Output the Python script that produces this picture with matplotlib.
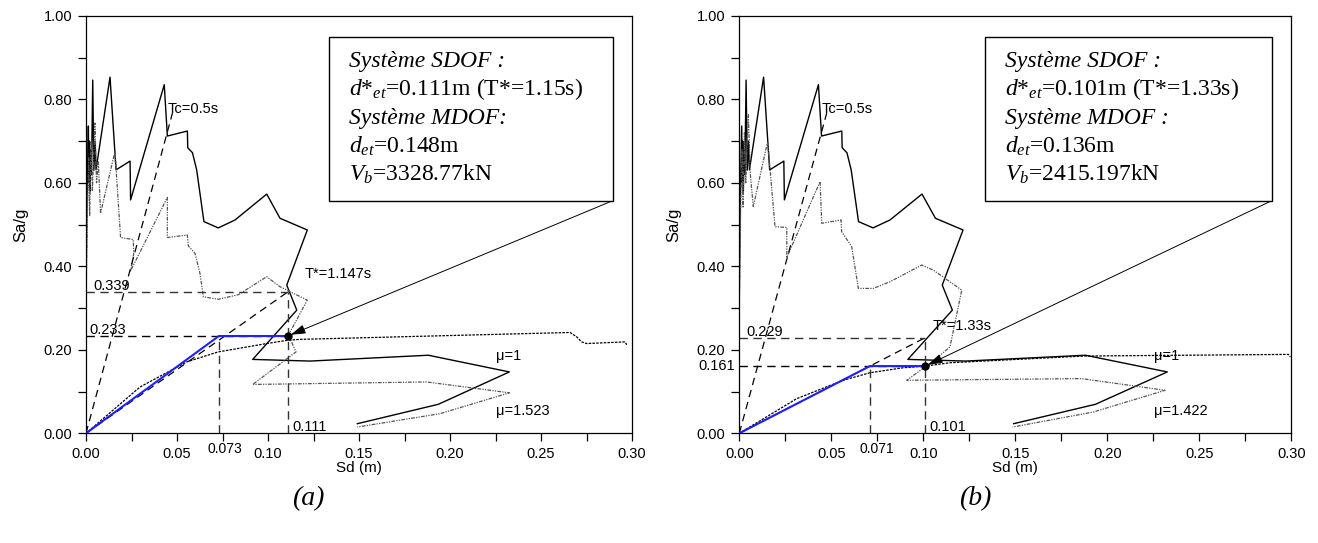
import matplotlib
matplotlib.use("Agg")
import matplotlib.pyplot as plt
from matplotlib.ticker import MultipleLocator, FormatStrFormatter
from matplotlib.patches import Rectangle

plt.rcParams['font.family'] = ['Liberation Sans', 'DejaVu Sans']
plt.rcParams['mathtext.fontset'] = 'custom'
plt.rcParams['mathtext.rm'] = 'Liberation Serif'
plt.rcParams['mathtext.it'] = 'Liberation Serif:italic'
plt.rcParams['mathtext.bf'] = 'Liberation Serif:bold'

# ---------------------------------------------------------------- data
# Elastic demand spectrum (mu = 1) in ADRS format, shared by both cases
elastic_sd = [0.0, 0.0004, 0.0008, 0.0013, 0.0016, 0.0019, 0.0022, 0.0026, 0.0030,
              0.0037, 0.0043, 0.0050, 0.0055, 0.0132, 0.0165, 0.0242, 0.0245, 0.0430,
              0.0447, 0.0557, 0.0559, 0.0585, 0.0608, 0.0648, 0.0727, 0.0819, 0.0993,
              0.1066, 0.1216, 0.1103, 0.1158, 0.0916, 0.1231, 0.1881, 0.2326, 0.1936,
              0.1491]
elastic_sa = [0.33, 0.52, 0.62, 0.736, 0.60, 0.70, 0.58, 0.68, 0.62,
              0.846, 0.63, 0.70, 0.631, 0.853, 0.631, 0.652, 0.559, 0.835,
              0.712, 0.724, 0.684, 0.672, 0.631, 0.507, 0.492, 0.511, 0.573,
              0.515, 0.487, 0.355, 0.295, 0.177, 0.173, 0.187, 0.147, 0.0695,
              0.023]

# (a) inelastic spectrum, mu = 1.523
inel_a_sd = [0.0, 0.0008, 0.0015, 0.0020, 0.0028, 0.0035, 0.0049, 0.0058, 0.0068,
             0.0080, 0.0159, 0.0190, 0.0260, 0.0262, 0.0245, 0.0447, 0.0447, 0.0557,
             0.0562, 0.0599, 0.0626, 0.0645, 0.0727, 0.0837, 0.0993, 0.1066, 0.1216,
             0.1112, 0.1154, 0.0916, 0.1871, 0.2326, 0.1945, 0.1491]
inel_a_sa = [0.30, 0.55, 0.66, 0.52, 0.70, 0.58, 0.743, 0.60, 0.65,
             0.527, 0.675, 0.469, 0.464, 0.43, 0.389, 0.565, 0.469, 0.475,
             0.449, 0.431, 0.383, 0.327, 0.321, 0.332, 0.375, 0.351, 0.319,
             0.235, 0.195, 0.117, 0.123, 0.097, 0.047, 0.015]

# (b) inelastic spectrum, mu = 1.422
inel_b_sd = [0.0, 0.0008, 0.0015, 0.0020, 0.0028, 0.0035, 0.0049, 0.0060, 0.0076,
             0.0154, 0.0194, 0.0258, 0.0258, 0.0439, 0.0448, 0.0553, 0.0556, 0.0611,
             0.0647, 0.0728, 0.0819, 0.0991, 0.1054, 0.1209, 0.1145, 0.1060, 0.0910,
             0.1861, 0.2314, 0.1924, 0.1486]
inel_b_sa = [0.30, 0.56, 0.68, 0.54, 0.72, 0.60, 0.763, 0.62, 0.543,
             0.699, 0.495, 0.493, 0.421, 0.603, 0.503, 0.511, 0.483, 0.447,
             0.347, 0.347, 0.363, 0.403, 0.391, 0.343, 0.207, 0.175, 0.127,
             0.131, 0.103, 0.051, 0.015]

# Capacity curves of the equivalent SDOF systems
cap_a_sd = [0.0, 0.0297, 0.0553, 0.0727, 0.0993, 0.1110, 0.1176, 0.2660, 0.2696,
            0.2723, 0.2751, 0.2962, 0.2971]
cap_a_sa = [0.0, 0.111, 0.171, 0.195, 0.215, 0.223, 0.225, 0.2415, 0.231,
            0.219, 0.215, 0.219, 0.212]
cap_b_sd = [0.0, 0.0312, 0.0565, 0.0710, 0.0891, 0.1010, 0.1145, 0.1870, 0.2984, 0.2995]
cap_b_sa = [0.0, 0.083, 0.127, 0.145, 0.157, 0.161, 0.169, 0.185, 0.189, 0.183]

# Bilinear idealisation: yield displacement, target displacement, yield level,
# elastic demand at T*
dy_a, dt_a, fy_a, se_a = 0.073, 0.111, 0.233, 0.339
dy_b, dt_b, fy_b, se_b = 0.071, 0.101, 0.161, 0.229

# Corner period line
tc_sd, tc_sa = 0.0475, 0.767

x_ticks = [0.00, 0.05, 0.10, 0.15, 0.20, 0.25, 0.30]
y_ticks = [0.00, 0.20, 0.40, 0.60, 0.80, 1.00]

box_a = [("Système SDOF :", True),
         (r"$d$*$_{et}$=0.111m (T*=1.15s)", False),
         ("Système MDOF:", True),
         (r"$d_{et}$=0.148m", False),
         (r"$V_b$=3328.77kN", False)]
box_b = [("Système SDOF :", True),
         (r"$d$*$_{et}$=0.101m (T*=1.33s)", False),
         ("Système MDOF :", True),
         (r"$d_{et}$=0.136m", False),
         (r"$V_b$=2415.197kN", False)]

W, H = 1318, 543
fig = plt.figure(figsize=(W / 100, H / 100), dpi=100)
ax_a = fig.add_axes([86 / W, 1 - 433.3 / H, 546 / W, 417.5 / H])
ax_b = fig.add_axes([739.3 / W, 1 - 433.3 / H, 552 / W, 417.5 / H])

tick_fs = 10.5
dash = (0, (6, 4))


def draw(ax, inel_sd, inel_sa, cap_sd, cap_sa, dy, dt, fy, se,
         tstar_label, tstar_xy, mu_label, box_lines, arrow_tip, yield_ticklabel):
    ax.set_xlim(0, 0.30)
    ax.set_ylim(0, 1.0)
    ax.set_xticks(x_ticks)
    ax.set_yticks(y_ticks)
    ax.xaxis.set_minor_locator(MultipleLocator(0.025))
    ax.yaxis.set_minor_locator(MultipleLocator(0.1))
    ax.xaxis.set_major_formatter(FormatStrFormatter('%.2f'))
    ax.yaxis.set_major_formatter(FormatStrFormatter('%.2f'))
    ax.tick_params(which='both', direction='out', length=6, width=0.9,
                   labelsize=tick_fs, pad=4, top=False, right=False)
    for s in ax.spines.values():
        s.set_linewidth(0.9)
    ax.set_xlabel("Sd (m)", fontsize=11, labelpad=0)
    ax.set_ylabel("Sa/g", fontsize=12, labelpad=11)

    # spectra
    ax.plot(elastic_sd, elastic_sa, color='black', lw=1.0, zorder=2)
    ax.plot(inel_sd, inel_sa, color='#555555', lw=0.9,
            ls=(0, (3, 1, 1, 1, 1, 1)), zorder=2)
    # capacity curve
    ax.plot(cap_sd, cap_sa, color='black', lw=0.9, ls=(0, (2, 1)), zorder=2)

    # radial period lines
    ax.plot([0, tc_sd], [0, tc_sa], color='black', lw=0.9, ls=dash)
    ax.plot([0, dt], [0, se], color='black', lw=0.9, ls=dash)

    # reference dashed lines
    ax.plot([0, dt], [se, se], color='#333333', lw=1.0, ls=dash)
    ax.plot([0, dt], [fy, fy], color='black', lw=1.0, ls=dash)
    ax.plot([dt, dt], [0, se], color='#333333', lw=1.0, ls=dash)
    ax.plot([dy, dy], [0, fy], color='#333333', lw=1.0, ls=dash)

    # bilinear idealisation
    ax.plot([0, dy, dt], [0, fy, fy], color='#1f1fff', lw=1.5, zorder=4)
    ax.plot([dt], [fy], marker='o', ms=5, color='black', zorder=5)

    # text box
    x0, x1, y0, y1 = 0.1336, 0.2893, 0.557, 0.949
    ax.add_patch(Rectangle((x0, y0), x1 - x0, y1 - y0, facecolor='white',
                           edgecolor='black', lw=1.0, zorder=6))
    for i, (txt, ital) in enumerate(box_lines):
        ax.text(0.1446, 0.878 - i * 0.0685, txt, fontsize=17,
                family='Liberation Serif', style='italic' if ital else 'normal',
                va='baseline', ha='left', zorder=7)
    ax.annotate("", xy=arrow_tip, xytext=(x1, y0),
                arrowprops=dict(arrowstyle='-|>,head_length=0.9,head_width=0.28',
                                lw=0.7, color='black', shrinkA=0, shrinkB=0),
                zorder=5)

    # labels
    ax.text(0.0450, 0.767, "Tc=0.5s", fontsize=10.5, va='baseline')
    ax.text(tstar_xy[0], tstar_xy[1], tstar_label, fontsize=10.5, va='baseline')
    ax.text(0.2255, 0.175, "μ=1", fontsize=10.5, va='baseline')
    ax.text(0.2255, 0.043, mu_label, fontsize=10.5, va='baseline')
    ax.text(0.004, se + 0.004, f"{se:.3f}", fontsize=10.5, va='baseline')
    if yield_ticklabel:
        ax.text(-0.0025, fy, f"{fy:.3f}", fontsize=tick_fs, va='center', ha='right')
    else:
        ax.text(0.002, fy + 0.004, f"{fy:.3f}", fontsize=10.5, va='baseline')
    ax.text(dt + 0.0022, 0.006, f"{dt:.3f}", fontsize=10.5, va='baseline')
    ax.annotate(f"{dy:.3f}", xy=(dy + 0.0035, 0), xycoords='data',
                xytext=(0, -6), textcoords='offset points',
                fontsize=10, ha='center', va='top')


draw(ax_a, inel_a_sd, inel_a_sa, cap_a_sd, cap_a_sa, dy_a, dt_a, fy_a, se_a,
     "T*=1.147s", (0.1203, 0.372), "μ=1.523", box_a, (0.1125, 0.236), False)
draw(ax_b, inel_b_sd, inel_b_sa, cap_b_sd, cap_b_sa, dy_b, dt_b, fy_b, se_b,
     "T*=1.33s", (0.1051, 0.247), "μ=1.422", box_b, (0.1025, 0.164), True)

fig.text(308 / W, 1 - 499 / H, "(a)", fontsize=20, family='Liberation Serif',
         style='italic', ha='center', va='center')
fig.text(975 / W, 1 - 499 / H, "(b)", fontsize=20, family='Liberation Serif',
         style='italic', ha='center', va='center')

fig.savefig("out.png", dpi=100)
